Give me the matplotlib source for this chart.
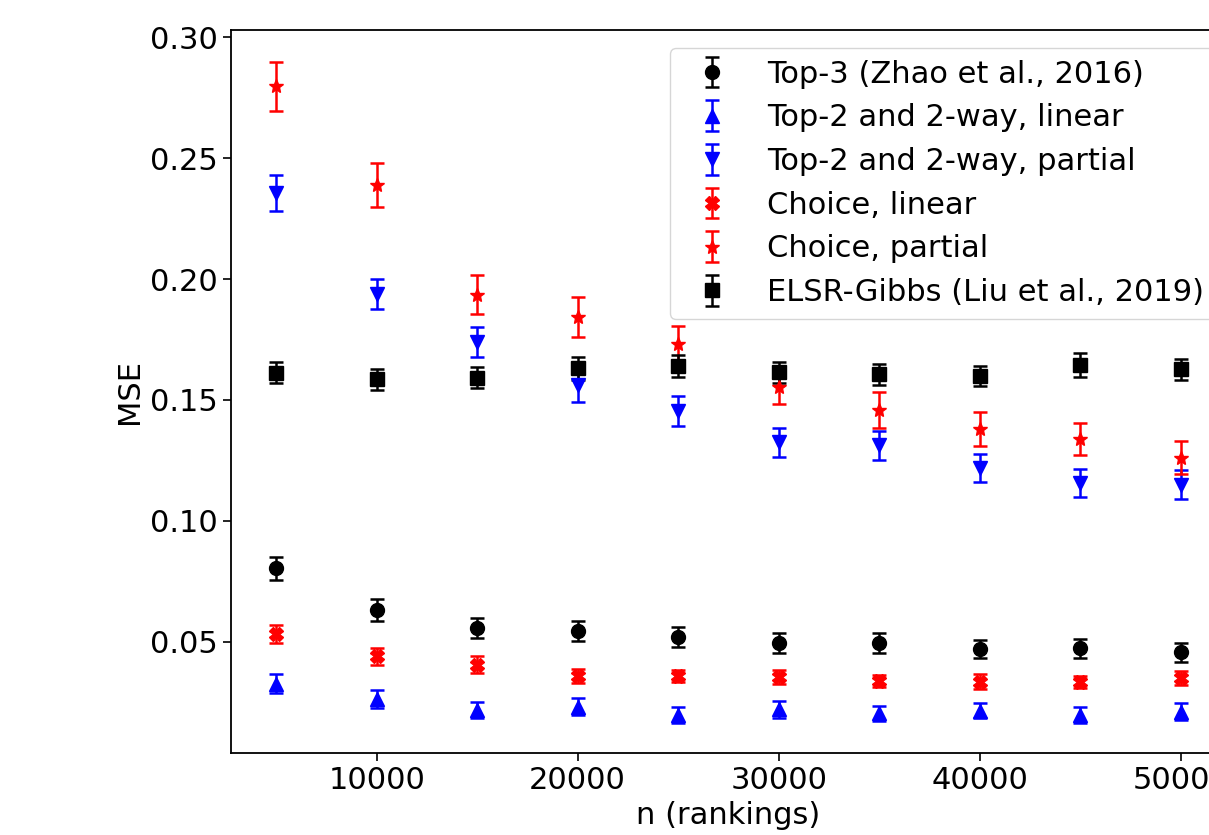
import matplotlib
matplotlib.use("Agg")
import matplotlib.pyplot as plt

n = [5000, 10000, 15000, 20000, 25000, 30000, 35000, 40000, 45000, 50000]

top3 = [0.0804, 0.0632, 0.0557, 0.0545, 0.0519, 0.0497, 0.0495, 0.0470, 0.0474, 0.0457]
top3_err = [0.0048, 0.0045, 0.0042, 0.0043, 0.0041, 0.0041, 0.0042, 0.0037, 0.0040, 0.0040]

t2_lin = [0.0328, 0.0265, 0.0219, 0.0233, 0.0198, 0.0222, 0.0205, 0.0216, 0.0198, 0.0212]
t2_lin_err = [0.0040, 0.0036, 0.0034, 0.0034, 0.0032, 0.0036, 0.0030, 0.0030, 0.0032, 0.0034]

t2_par = [0.2355, 0.1940, 0.1740, 0.1562, 0.1455, 0.1326, 0.1312, 0.1219, 0.1157, 0.1150]
t2_par_err = [0.0074, 0.0062, 0.0063, 0.0069, 0.0062, 0.0060, 0.0060, 0.0057, 0.0057, 0.0060]

ch_lin = [0.0532, 0.0440, 0.0405, 0.0360, 0.0361, 0.0355, 0.0338, 0.0336, 0.0334, 0.0350]
ch_lin_err = [0.0038, 0.0035, 0.0035, 0.0028, 0.0025, 0.0030, 0.0025, 0.0030, 0.0025, 0.0030]

ch_par = [0.2796, 0.2388, 0.1936, 0.1843, 0.1730, 0.1553, 0.1459, 0.1380, 0.1339, 0.1262]
ch_par_err = [0.0100, 0.0092, 0.0082, 0.0083, 0.0075, 0.0070, 0.0073, 0.0070, 0.0065, 0.0067]

elsr = [0.1613, 0.1586, 0.1592, 0.1631, 0.1642, 0.1615, 0.1607, 0.1599, 0.1645, 0.1627]
elsr_err = [0.0043, 0.0043, 0.0043, 0.0047, 0.0045, 0.0043, 0.0043, 0.0043, 0.0048, 0.0043]

labels = ["Top-3 (Zhao et al., 2016)", "Top-2 and 2-way, linear",
          "Top-2 and 2-way, partial", "Choice, linear", "Choice, partial",
          "ELSR-Gibbs (Liu et al., 2019)"]

FS = 22
plt.rcParams['font.family'] = ['DejaVu Sans']
fig = plt.figure(figsize=(12.09, 8.35), dpi=100)
ax = fig.add_axes([0.191, 0.0982, 1.014 - 0.191, 0.964 - 0.0982])

common = dict(linestyle='none', capsize=5, elinewidth=1.8, capthick=1.8, markersize=10)
ax.errorbar(n, top3, yerr=top3_err, fmt='o', color='black', label=labels[0], **common)
ax.errorbar(n, t2_lin, yerr=t2_lin_err, fmt='^', color='blue', label=labels[1], **common)
ax.errorbar(n, t2_par, yerr=t2_par_err, fmt='v', color='blue', label=labels[2], **common)
ax.errorbar(n, ch_lin, yerr=ch_lin_err, fmt='X', color='red', label=labels[3], **common)
ax.errorbar(n, ch_par, yerr=ch_par_err, fmt='*', color='red', label=labels[4], **common)
ax.errorbar(n, elsr, yerr=elsr_err, fmt='s', color='black', label=labels[5], **common)

ax.set_xlim(2750, 52250)
ax.set_ylim(0.0041, 0.3029)
ax.set_xticks([10000, 20000, 30000, 40000, 50000])
ax.set_yticks([0.05, 0.10, 0.15, 0.20, 0.25, 0.30])
ax.set_yticklabels(["0.05", "0.10", "0.15", "0.20", "0.25", "0.30"])
ax.tick_params(labelsize=FS, length=6, width=1.2)
for s in ax.spines.values():
    s.set_linewidth(1.3)
ax.set_xlabel("n (rankings)", fontsize=FS)
ax.set_ylabel("MSE", fontsize=FS)
ax.legend(loc='upper right', bbox_to_anchor=(1.006, 0.997), fontsize=FS, labelspacing=0.48)

fig.savefig("out.png", dpi=100)
